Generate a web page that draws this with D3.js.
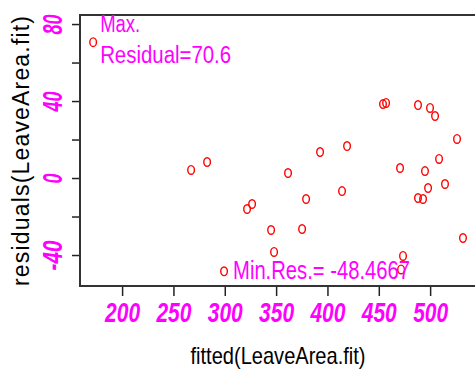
<!DOCTYPE html>
<html>
<head>
<meta charset="utf-8">
<script src="https://cdn.jsdelivr.net/npm/d3@7"></script>
<style>
  body { margin: 0; background: #fff; }
  svg { display: block; }
</style>
</head>
<body>
<div id="chart"></div>
<script>
// set the dimensions of the picture
var width = 475,
    height = 372

// data: fitted values and residuals
var fitted = [171.8, 267.2, 282.8, 321.7, 326.6, 361.6, 392.8, 419.1, 379.2, 414.2,
              345.1, 375.3, 348.0, 299.3, 454.1, 457.1, 488.2, 499.9, 504.8, 526.2,
              470.7, 495.0, 508.7, 514.5, 498.0, 488.2, 493.1, 532.0, 473.6, 471.7]
var resid = [70.6, 4.2, 8.3, -16.1, -13.5, 2.6, 13.5, 16.6, -10.9, -6.8,
             -27.0, -26.5, -38.4, -48.47, 38.4, 39.0, 37.9, 36.4, 32.2, 20.3,
             5.2, 3.6, 9.9, -3.1, -5.2, -10.4, -10.9, -31.2, -40.5, -47.5]
var xTicks = [200, 250, 300, 350, 400, 450, 500]
var yTicks = [-40, -20, 0, 20, 40, 60, 80]
var yLabels = [-40, 0, 40, 80]

var magenta = "#ff00ff"

var svg = d3.select("#chart")
  .append("svg")
    .attr("width", width)
    .attr("height", height)

var x = d3.scaleLinear().domain([159, 543.7]).range([80, 475])
var y = d3.scaleLinear().domain([-56.1, 84.7]).range([286, 15])

// x axis
var gx = svg.append("g")
  .attr("transform", "translate(0,286)")
  .call(d3.axisBottom(x).tickValues(xTicks).tickSize(10).tickSizeOuter(0))
gx.select(".domain").remove()
gx.selectAll("line").attr("stroke", "#222").attr("stroke-width", 1.5)
gx.selectAll("text")
  .attr("y", 36)
  .attr("dy", 0)
  .attr("fill", magenta)
  .attr("font-family", "Liberation Sans, Arial, sans-serif")
  .attr("font-size", 28)
  .attr("font-weight", "bold")
  .attr("font-style", "italic")
  .attr("textLength", 35)
  .attr("lengthAdjust", "spacingAndGlyphs")

// y axis
var gy = svg.append("g")
  .attr("transform", "translate(80,0)")
  .call(d3.axisLeft(y).tickValues(yTicks).tickSize(8).tickSizeOuter(0)
    .tickFormat(function(d) { return yLabels.indexOf(d) >= 0 ? d : "" }))
gy.select(".domain").remove()
gy.selectAll("line").attr("stroke", "#222").attr("stroke-width", 1.5)
gy.selectAll("text")
  .attr("x", null).attr("dy", null)
  .attr("transform", "translate(-18,0) rotate(-90)")
  .attr("text-anchor", "middle")
  .attr("fill", magenta)
  .attr("font-family", "Liberation Sans, Arial, sans-serif")
  .attr("font-size", 28)
  .attr("font-weight", "bold")
  .attr("font-style", "italic")
  .each(function(d) {
    var s = String(d)
    if (s.length) d3.select(this).attr("textLength", s.length * 10).attr("lengthAdjust", "spacingAndGlyphs")
  })

// plot box (right side runs off the picture)
svg.append("path")
  .attr("d", "M480,15 H80 V286 H480")
  .attr("fill", "none")
  .attr("stroke", "#333")
  .attr("stroke-width", 2)

// points
svg.selectAll("ellipse.pt")
  .data(fitted.map(function(f, i) { return [f, resid[i]] }))
  .enter()
  .append("ellipse")
    .attr("class", "pt")
    .attr("cx", function(d) { return x(d[0]) })
    .attr("cy", function(d) { return y(d[1]) })
    .attr("rx", 3.3)
    .attr("ry", 4.3)
    .attr("fill", "none")
    .attr("stroke", "#ff0000")
    .attr("stroke-width", 1.4)

// annotations
function note(txt, px, py, len, size) {
  svg.append("text")
    .attr("x", px).attr("y", py)
    .attr("fill", magenta)
    .attr("font-family", "Liberation Sans, Arial, sans-serif")
    .attr("font-size", size)
    .attr("textLength", len)
    .attr("lengthAdjust", "spacingAndGlyphs")
    .text(txt)
}
note("Max.", x(171.8) + 7, y(70.6) - 10, 40, 23)
note("Residual=70.6", x(171.8) + 7, y(70.6) + 21, 131, 23)
note("Min.Res.= -48.4667", x(299.3) + 9, y(-48.47) + 8, 177, 25)

// axis titles
svg.append("text")
  .attr("x", 278).attr("y", 364)
  .attr("text-anchor", "middle")
  .attr("font-family", "Liberation Sans, Arial, sans-serif")
  .attr("font-size", 24)
  .attr("textLength", 175)
  .attr("lengthAdjust", "spacingAndGlyphs")
  .text("fitted(LeaveArea.fit)")

svg.append("text")
  .attr("transform", "translate(29,151) rotate(-90)")
  .attr("text-anchor", "middle")
  .attr("font-family", "Liberation Sans, Arial, sans-serif")
  .attr("font-size", 23)
  .attr("textLength", 270)
  .attr("lengthAdjust", "spacing")
  .text("residuals(LeaveArea.fit)")
</script>
</body>
</html>
